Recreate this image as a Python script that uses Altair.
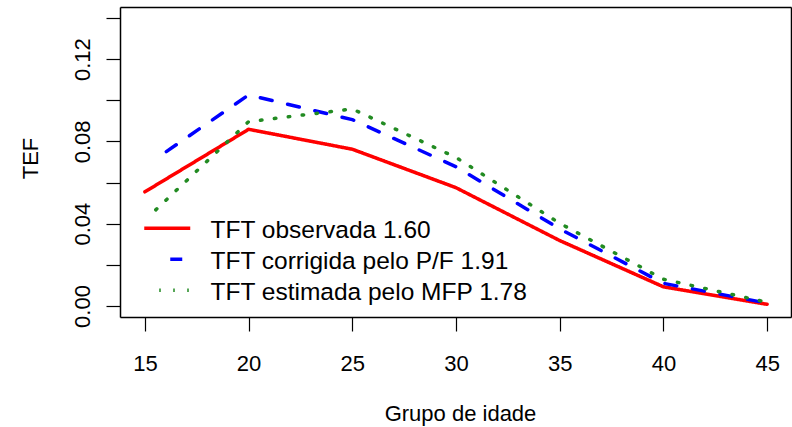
import altair as alt
import pandas as pd

# ---- data ----
ages = [15, 20, 25, 30, 35, 40, 45]
observada = [0.0555, 0.0859, 0.0762, 0.0575, 0.0318, 0.0093, 0.0008]
corrigida = [0.0679, 0.1026, 0.0906, 0.0677, 0.0375, 0.0110, 0.0014]
estimada = [0.0417, 0.0896, 0.0958, 0.0722, 0.0402, 0.0130, 0.0018]
series_names = [
    "TFT observada 1.60",
    "TFT corrigida pelo P/F 1.91",
    "TFT estimada pelo MFP 1.78",
]
series_colors = ["#FF0000", "#0000FF", "#228B22"]
x_ticks = [15, 20, 25, 30, 35, 40, 45]
y_ticks = [0.0, 0.02, 0.04, 0.06, 0.08, 0.10, 0.12, 0.14]

rows = []
for name, vals in zip(series_names, [observada, corrigida, estimada]):
    for a, v in zip(ages, vals):
        rows.append({"idade": a, "tef": v, "serie": name})
df = pd.DataFrame(rows)
df["ordem"] = df["serie"].map({n: i for i, n in enumerate(series_names)})

# dash styles (first period left empty, as in the reference rendering)
solid = [1, 0]
dashed = [1, 27] + [12, 16] * 45
dotted = [1, 16] + [1.5, 12.5] * 90
FONT = "Liberation Sans"

x_scale = alt.Scale(domain=[13.8, 46.15], nice=False, zero=False)
y_scale = alt.Scale(domain=[-0.00536, 0.14536], nice=False, zero=False)

frame_axis = dict(
    domain=True, domainColor="black", domainWidth=1.5,
    ticks=False, labels=False, grid=False, title=None,
)

base = alt.Chart(df)

lines = base.mark_line(
    strokeWidth=3.5, strokeCap="round", strokeJoin="round", strokeDashOffset=2, clip=True
).encode(
    x=alt.X(
        "idade:Q",
        scale=x_scale,
        axis=alt.Axis(
            values=x_ticks,
            title="Grupo de idade",
            grid=False,
            domain=True,
            domainColor="black",
            domainWidth=1.5,
            tickSize=14,
            tickWidth=1.2,
            tickColor="black",
            labelFont=FONT,
            labelFontSize=22,
            labelColor="black",
            labelBaseline="alphabetic",
            labelPadding=39,
            labelFlush=False,
            labelOverlap=False,
            titleFont=FONT,
            titleFontSize=22,
            titleFontWeight="normal",
            titleColor="black",
            titleBaseline="alphabetic",
            titleAlign="center",
            titleX=340,
            titleY=103,
        ),
    ),
    y=alt.Y(
        "tef:Q",
        scale=y_scale,
        axis=alt.Axis(
            values=y_ticks,
            labelExpr="round(datum.value*100) % 4 == 0 ? format(datum.value, '.2f') : ''",
            title="TEF",
            grid=False,
            domain=True,
            domainColor="black",
            domainWidth=1.5,
            tickSize=14,
            tickWidth=1.2,
            tickColor="black",
            labelFont=FONT,
            labelFontSize=22,
            labelColor="black",
            labelAngle=270,
            labelAlign="center",
            labelBaseline="alphabetic",
            labelPadding=17,
            labelFlush=False,
            labelOverlap=False,
            titleFont=FONT,
            titleFontSize=22,
            titleFontWeight="normal",
            titleColor="black",
            titleAngle=270,
            titleAlign="center",
            titleBaseline="alphabetic",
            titleX=-83,
            titleY=151,
        ),
    ),
    color=alt.Color(
        "serie:N",
        scale=alt.Scale(domain=series_names, range=series_colors),
        legend=alt.Legend(
            title=None,
            orient="none",
            legendX=35,
            legendY=212,
            symbolType="M-2.3,-0.3L2.3,-0.3",
            symbolSize=400,
            symbolStrokeWidth=3.5,
            symbolDashOffset=2,
            labelFont=FONT,
            labelFontSize=24.5,
            labelColor="black",
            labelLimit=600,
            labelOffset=31,
            labelBaseline="middle",
            padding=0,
            rowPadding=6,
        ),
    ),
    strokeDash=alt.StrokeDash(
        "serie:N",
        scale=alt.Scale(domain=series_names, range=[solid, dashed, dotted]),
        legend=None,
    ),
    order=alt.Order("ordem:Q"),
)

frame = base.mark_line(opacity=0).encode(
    x=alt.X("idade:Q", scale=x_scale, axis=alt.Axis(orient="top", **frame_axis)),
    y=alt.Y("tef:Q", scale=y_scale, axis=alt.Axis(orient="right", **frame_axis)),
    detail="serie:N",
)

chart = (
    alt.layer(lines, frame)
    .resolve_axis(x="independent", y="independent")
    .properties(
        width=671,
        height=310,
        autosize=alt.AutoSizeParams(type="none"),
        padding={"left": 120, "top": 7, "right": 1, "bottom": 110},
    )
    .configure_view(stroke=None, fill="white")
    .configure(background="white")
)

chart.save("out.html", embed_options={"renderer": "svg", "actions": False})
